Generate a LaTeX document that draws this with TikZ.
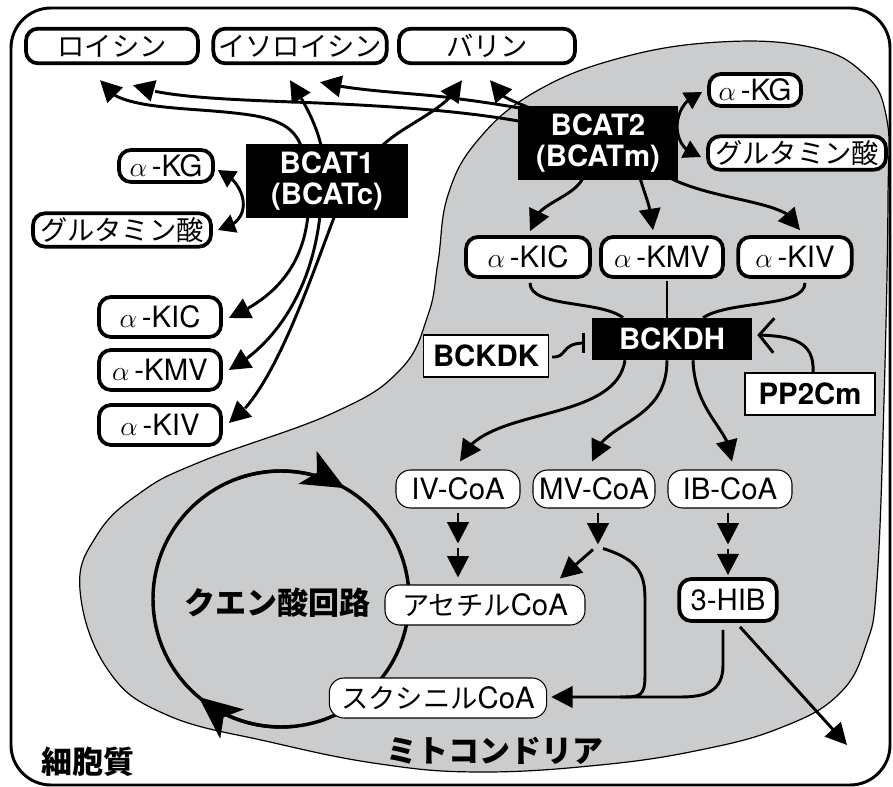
\documentclass[tikz,border=0pt]{standalone}
\usepackage{fontspec}
\setmainfont{TeX Gyre Heros}
\newfontfamily\jp{Noto Sans CJK JP}[Scale=0.93]
\usetikzlibrary{arrows.meta,calc,bending}
\pgfdeclarelayer{bg}\pgfdeclarelayer{mid}\pgfsetlayers{bg,mid,main}
\definecolor{mito}{RGB}{203,204,206}
\begin{document}
\begin{tikzpicture}[x=0.75pt,y=-0.75pt,
  base/.style={inner sep=0pt, font=\fontsize{22}{24}\selectfont},
  tbox/.style={base, draw, fill=white, line width=2.8pt, rounded corners=9pt},
  cbox/.style={base, draw, fill=white, line width=0.8pt, rounded corners=11pt},
  enz/.style={base, fill=black, text=white, align=center, font=\bfseries\fontsize{22}{23.5}\selectfont},
  sbox/.style={base, draw, fill=white, line width=0.8pt, font=\bfseries\fontsize{22}{24}\selectfont},
  big/.style={inner sep=0pt, font=\jp\bfseries\fontsize{25}{27}\selectfont},
  conn/.style={line width=2.2pt},
  arr/.style={conn, -{Triangle[length=16pt,width=16pt]}},
  both/.style={conn, {Triangle[length=16pt,width=16pt]}-{Triangle[length=16pt,width=16pt]}},
  kg/.style={conn, {Triangle[length=13pt,width=14pt]}-{Triangle[length=13pt,width=14pt]}},
  cyctip/.style={line width=2.5pt, -{Stealth[length=32pt,width=28pt,inset=8pt]}}]
\useasboundingbox (0,0) rectangle (893,787);
% nodes
\node[draw, circle, line width=2.6pt, minimum size=192pt, inner sep=0pt] (cyc) at (281,599) {};
\node[tbox, minimum width=129pt, minimum height=26pt] (leu) at (112,46) {\jp ロイシン};
\node[tbox, minimum width=130pt, minimum height=26pt] (ile) at (300,46) {\jp イソロイシン};
\node[tbox, minimum width=132pt, minimum height=26pt] (val) at (487,46) {\jp バリン};
\node[tbox, minimum width=70.5pt, minimum height=24pt] (akg1) at (166,166) {$\alpha$\,-KG};
\node[tbox, minimum width=133.5pt, minimum height=25pt] (glu1) at (122,230) {\jp グルタミン酸};
\node[tbox, minimum width=69pt, minimum height=24pt] (akg2) at (755,90) {$\alpha$\,-KG};
\node[tbox, minimum width=133.5pt, minimum height=25pt] (glu2) at (797,153) {\jp グルタミン酸};
\node[enz, minimum width=121pt, minimum height=55pt] (bcat1) at (327,181) {BCAT1\\(BCATc)};
\node[enz, minimum width=120pt, minimum height=56pt] (bcat2) at (598,143) {BCAT2\\(BCATm)};
\node[tbox, minimum width=91.5pt, minimum height=30pt] (akic1) at (160,317) {$\alpha$\,-KIC};
\node[tbox, minimum width=91.5pt, minimum height=30pt] (akmv1) at (160,370) {$\alpha$\,-KMV};
\node[tbox, minimum width=91.5pt, minimum height=30pt] (akiv1) at (160,425) {$\alpha$\,-KIV};
\node[tbox, minimum width=93pt, minimum height=30pt] (akic2) at (528,257) {$\alpha$\,-KIC};
\node[tbox, minimum width=91.5pt, minimum height=30pt] (akmv2) at (662,257) {$\alpha$\,-KMV};
\node[tbox, minimum width=85pt, minimum height=30pt] (akiv2) at (795,257) {$\alpha$\,-KIV};
\node[enz, minimum width=120pt, minimum height=31.5pt] (bckdh) at (672,339) {BCKDH};
\node[sbox, minimum width=93.75pt, minimum height=31.5pt] (bckdk) at (486,356) {BCKDK};
\node[sbox, minimum width=97.5pt, minimum height=31.5pt] (pp2cm) at (810,394) {PP2Cm};
\node[cbox, minimum width=93pt, minimum height=28.5pt] (ivcoa) at (458,489) {IV-CoA};
\node[cbox, minimum width=91.5pt, minimum height=28.5pt] (mvcoa) at (594,489) {MV-CoA};
\node[cbox, minimum width=93pt, minimum height=28.5pt] (ibcoa) at (730,489) {IB-CoA};
\node[cbox, minimum width=150pt, minimum height=30pt] (ac) at (485,605) {{\jp アセチル}CoA};
\node[cbox, minimum width=163pt, minimum height=30pt] (suc) at (438,698) {{\jp スクシニル}CoA};
\node[tbox, minimum width=73pt, minimum height=31.5pt] (hib) at (728,600) {3-HIB};
\node[big] (tcalab) at (277,603) {クエン酸回路};
\node[big] (cytolab) at (88,762) {細胞質};
\node[big] (mitolab) at (495,751) {ミトコンドリア};
\coordinate (out) at (847,745);
% background shapes
\begin{pgfonlayer}{bg}
\draw[line width=2.2pt, rounded corners=30pt] (11,8) rectangle (890,785);
\draw[fill=mito, line width=0.9pt] plot[smooth cycle, tension=0.7] coordinates {
 (438,262) (448,195) (478,140) (535,92) (620,58) (720,42) (810,47) (862,72) (886,115)
 (888,200) (884,400) (877,580) (866,645) (838,695) (780,728) (700,750) (600,765)
 (480,772) (380,764) (270,742) (167,715) (108,670) (80,590) (97,535) (140,493)
 (200,462) (333,413) (400,370) (428,315)};
\end{pgfonlayer}
% connectors
\begin{pgfonlayer}{mid}
\draw[both] ($(leu.south)+(-12,15)$) .. controls (112,112) and (190,106) .. (250,115) .. controls (290,121) and (300,135) .. (305,160) -- (308,215) .. controls (302,275) and (265,302) .. ($(akic1.east)+(6,1)$);
\draw[both] ($(ile.south)+(-10,15)$) .. controls (303,100) and (318,125) .. (323,155) -- (320,215) .. controls (312,290) and (275,345) .. ($(akmv1.east)+(6,0)$);
\draw[both] ($(val.south)+(-25,15)$) .. controls (450,110) and (400,125) .. (378,150) -- (335,215) .. controls (310,280) and (272,395) .. ($(akiv1.east)+(6,-2)$);
\draw[both] ($(leu.south)+(21,20)$) .. controls (170,100) and (260,100) .. (340,104) .. controls (420,108) and (480,113) .. (540,125) -- (583,178) .. controls (572,200) and (532,203) .. ($(akic2.north)+(2,-4)$);
\draw[both] ($(ile.south)+(20,17)$) .. controls (360,92) and (420,93) .. (460,99) .. controls (490,103) and (510,106) .. (540,112) -- (640,178) .. controls (645,195) and (652,210) .. ($(akmv2.north)+(-9,-5)$);
\draw[both] ($(val.south)+(3,15)$) .. controls (495,95) and (510,100) .. (530,108) -- (670,178) .. controls (720,203) and (795,200) .. ($(akiv2.north)+(5,-5)$);
\draw[kg] ($(akg1.east)+(3,4)$) .. controls (245,180) and (258,222) .. ($(glu1.east)+(5,0)$);
\draw[kg] ($(akg2.west)+(-5,2)$) .. controls (670,102) and (668,150) .. ($(glu2.west)+(-5,4)$);
\draw[conn] ($(akic2.south)+(2,4)$) .. controls (530,308) and (600,300) .. ($(bckdh.north)+(-49,0)$);
\draw[conn] ($(akmv2.south)+(5,2)$) -- ($(bckdh.north)+(-5,0)$);
\draw[conn] ($(akiv2.south)+(10,4)$) .. controls (805,308) and (730,300) .. ($(bckdh.north)+(31,0)$);
\draw[arr] ($(bckdh.south)+(-47,0)$) .. controls (615,425) and (480,405) .. ($(ivcoa.north)+(2,-8)$);
\draw[arr] ($(bckdh.south)+(-5,0)$) .. controls (667,425) and (600,420) .. ($(mvcoa.north)+(-2,-8)$);
\draw[arr] ($(bckdh.south)+(21,0)$) .. controls (695,415) and (732,430) .. ($(ibcoa.north)+(2,-8)$);
\draw[conn, -{Bar[width=15pt]}] ($(bckdk.east)+(3,1)$) .. controls (568,358) and (560,343) .. ($(bckdh.west)+(-7,4)$);
\draw[conn, -{Straight Barb[length=11pt,width=26pt]}] ($(pp2cm.north)+(3,0)$) .. controls (815,340) and (790,336) .. ($(bckdh.east)+(5,-4)$);
\draw[arr] ($(ivcoa.south)+(0,4)$) -- ($(ivcoa.south)+(0,35)$);
\draw[arr] ($(ivcoa.south)+(0,39)$) -- ($(ac.north)+(-27,-7)$);
\draw[arr] ($(mvcoa.south)+(4,4)$) -- ($(mvcoa.south)+(4,36)$);
\draw[arr] ($(mvcoa.south)+(-1,41)$) -- ($(ac.north)+(75,-6)$);
\draw[arr] ($(mvcoa.south)+(9,40)$) .. controls (640,560) and (645,575) .. (645,600) -- (645,675) .. controls (645,697) and (640,697) .. (620,697) -- ($(suc.east)+(4,-1)$);
\draw[arr] ($(ibcoa.south)+(-2,4)$) -- ($(ibcoa.south)+(-2,36)$);
\draw[arr] ($(ibcoa.south)+(-2,40)$) -- ($(hib.north)+(0,-2)$);
\draw[conn] ($(hib.south)+(-5,7)$) -- (723,665) .. controls (723,692) and (705,697) .. (680,697) -- (620,697);
\draw[arr] ($(hib.south)+(12,4)$) -- (out);
\draw[cyctip] plot[domain=-110:-60, samples=25] ({281+128*cos(\x)},{599+128*sin(\x)});
\draw[cyctip] plot[domain=85:130, samples=25] ({281+128*cos(\x)},{599+128*sin(\x)});
\end{pgfonlayer}
\end{tikzpicture}
\end{document}
